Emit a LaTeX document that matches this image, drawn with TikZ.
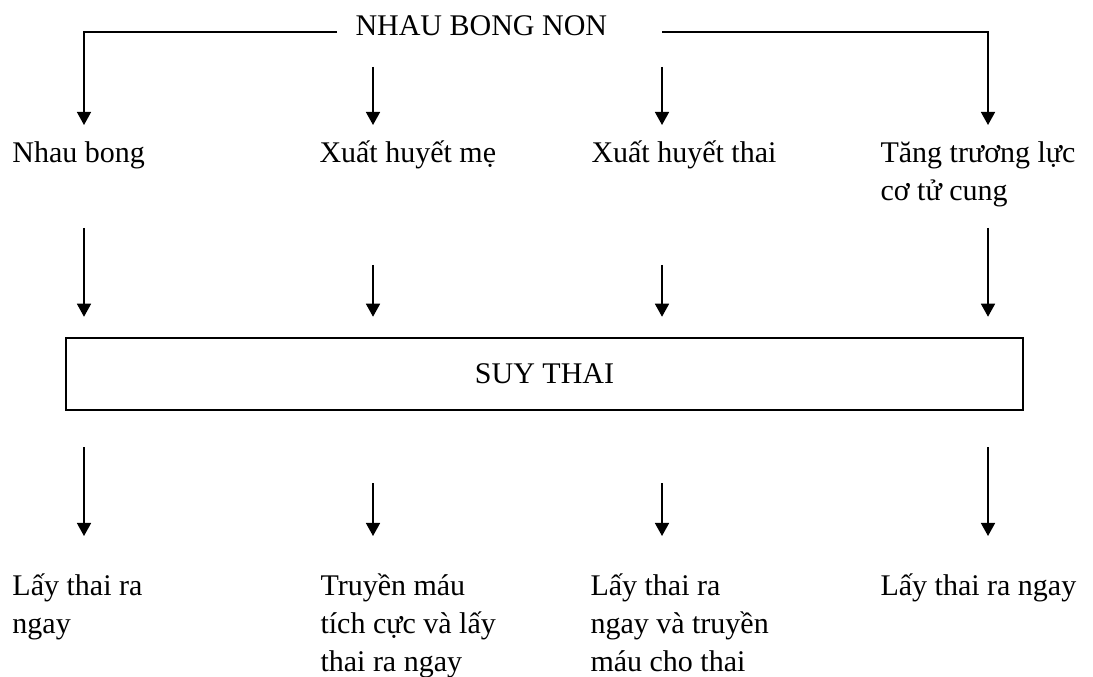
\documentclass[tikz,border=0pt]{standalone}
\usepackage{fontspec}
\setmainfont{Liberation Serif}
\usetikzlibrary{arrows.meta}
\begin{document}
\begin{tikzpicture}[x=0.4pt, y=-0.4pt,
	txt/.style={anchor=base west, inner sep=0pt, align=left, font=\fontsize{12}{15.2}\selectfont},
	box/.style={draw, line width=1pt, inner sep=0pt, minimum width=382.8pt, minimum height=28.8pt, font=\fontsize{12}{15.2}\selectfont},
	arr/.style={-{Triangle[length=5.2pt, width=5.6pt]}, line width=0.6pt}]
	    \useasboundingbox (0,0) rectangle (1093,677);
	    % title and the four causes (multi-line nodes sit on their last line)
	    \node[txt] (nbn) at (355,36) {NHAU BONG NON};
	    \node[txt] (nb) at (12,163) {Nhau bong};
	    \node[txt] (xhm) at (319,163) {Xuất huyết mẹ};
	    \node[txt] (xht) at (591,163) {Xuất huyết thai};
	    \node[txt] (tlc) at (880,201) {Tăng trương lực\\cơ tử cung};
	    \node[box] (suy) at (544.5,374) {SUY THAI};
	    % what to do
	    \node[txt] (ly1) at (12,634) {Lấy thai ra\\ngay};
	    \node[txt] (tm) at (320,672) {Truyền máu\\tích cực và lấy\\thai ra ngay};
	    \node[txt] (ly2) at (590,672) {Lấy thai ra\\ngay và truyền\\máu cho thai};
	    \node[txt] (ly3) at (880,596) {Lấy thai ra ngay};
	    % arrow ends
	    \coordinate (nl) at (337,32);
	    \coordinate (nr) at (662,32);
	    \coordinate (a2) at (373,67);
	    \coordinate (a3) at (662,67);
	    \coordinate (t1) at (84,125);
	    \coordinate (t2) at (373,125);
	    \coordinate (t3) at (662,125);
	    \coordinate (t4) at (988,125);
	    \coordinate (b1) at (84,228);
	    \coordinate (b2) at (373,265);
	    \coordinate (b3) at (662,265);
	    \coordinate (b4) at (988,228);
	    \coordinate (d1) at (84,536);
	    \coordinate (d2) at (373,536);
	    \coordinate (d3) at (662,536);
	    \coordinate (d4) at (988,536);
	    \draw[arr] (nl) -| (t1);
	    \draw[arr] (a2) -- (t2);
	    \draw[arr] (a3) -- (t3);
	    \draw[arr] (nr) -| (t4);
	    \draw[arr, shorten >=8pt] (b1) -- (b1 |- suy.north);
	    \draw[arr, shorten >=8pt] (b2) -- (b2 |- suy.north);
	    \draw[arr, shorten >=8pt] (b3) -- (b3 |- suy.north);
	    \draw[arr, shorten >=8pt] (b4) -- (b4 |- suy.north);
	    \draw[arr, shorten <=14.4pt] (d1 |- suy.south) -- (d1);
	    \draw[arr, shorten <=28.8pt] (d2 |- suy.south) -- (d2);
	    \draw[arr, shorten <=28.8pt] (d3 |- suy.south) -- (d3);
	    \draw[arr, shorten <=14.4pt] (d4 |- suy.south) -- (d4);
	\end{tikzpicture}
\end{document}
